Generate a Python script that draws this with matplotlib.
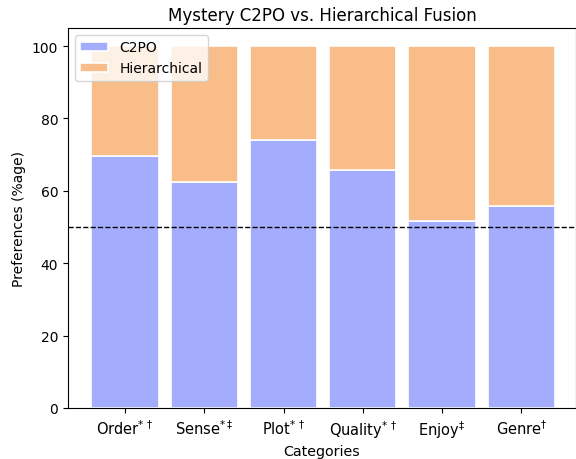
import matplotlib
matplotlib.use('Agg')
import matplotlib.pyplot as plt
import numpy as np

# Data
categories = [r'Order$^{*\,\dagger}$', r'Sense$^{*\ddagger}$', r'Plot$^{*\,\dagger}$',
              r'Quality$^{*\,\dagger}$', r'Enjoy$^{\ddagger}$', r'Genre$^{\dagger}$']
c2po = [69.7, 62.3, 74.0, 65.8, 51.7, 55.9]
hierarchical = [100 - v for v in c2po]

fig = plt.figure(figsize=(5.76, 4.6), dpi=100)
ax = fig.add_axes([0.118, 0.111, 0.882, 0.826])

x = np.arange(len(categories))
ax.bar(x, c2po, width=0.85, color='#a4adfd', edgecolor='white', linewidth=1.2, label='C2PO')
ax.bar(x, hierarchical, width=0.85, bottom=c2po, color='#f8bd88', edgecolor='white',
       linewidth=1.2, label='Hierarchical')
ax.axhline(50, color='black', linestyle='--', linewidth=1)

ax.set_xticks(x)
ax.set_xticklabels(categories, fontsize=10.5)
ax.tick_params(axis='x', pad=4)
ax.set_xlim(-0.72, 5.69)
ax.set_ylim(0, 105)
ax.set_xlabel('Categories', fontsize=10.3, labelpad=3)
ax.set_ylabel('Preferences (%age)')
ax.set_title('Mystery C2PO vs. Hierarchical Fusion')
ax.legend(loc='upper left')

fig.savefig('out.png', dpi=100)
